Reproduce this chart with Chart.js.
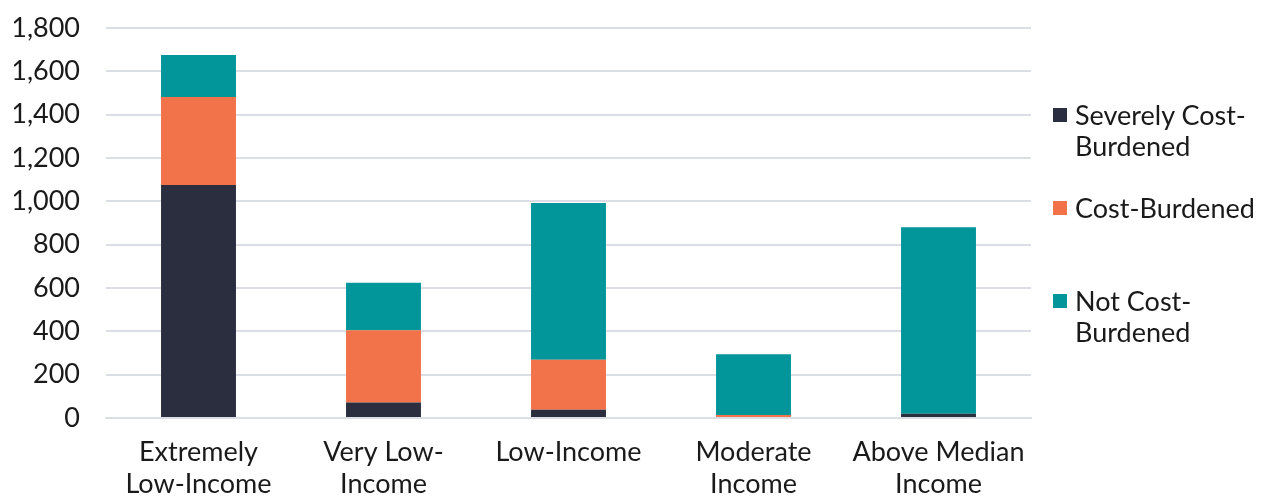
<!DOCTYPE html>
<html>
<head>
<meta charset="utf-8">
<script src="https://cdn.jsdelivr.net/npm/chart.js@4.4.1/dist/chart.umd.min.js"></script>
<style>
  html, body { margin: 0; padding: 0; background: #ffffff; }
  #wrap { position: relative; width: 1273px; height: 498px; }
  #chart { position: absolute; left: 0; top: 0; }
  .legend { position: absolute; left: 1053px; font-family: Lato, sans-serif; font-size: 27px; color: #1a1a1a; line-height: 31px; }
  .legend .sw { position: absolute; left: 0; top: 9px; width: 14px; height: 14px; }
  .legend .tx { position: absolute; left: 22px; white-space: nowrap; }
</style>
</head>
<body>
<div id="wrap">
  <canvas id="chart" width="1273" height="498"></canvas>
  <div class="legend" style="top:99px"><div class="sw" style="background:#2b2e3f"></div><div class="tx">Severely Cost-<br>Burdened</div></div>
  <div class="legend" style="top:192px"><div class="sw" style="background:#f2724a"></div><div class="tx">Cost-Burdened</div></div>
  <div class="legend" style="top:285px"><div class="sw" style="background:#02969b"></div><div class="tx">Not Cost-<br>Burdened</div></div>
</div>
<script>
// Households by income level and housing cost burden
const categories = [
  ["Extremely", "Low-Income"],
  ["Very Low-", "Income"],
  ["Low-Income"],
  ["Moderate", "Income"],
  ["Above Median", "Income"]
];
const severelyCostBurdened = [1075, 72, 38, 0, 20];
const costBurdened = [406, 333, 231, 14, 0];
const notCostBurdened = [194, 219, 723, 280, 860];
const yTicks = [0, 200, 400, 600, 800, 1000, 1200, 1400, 1600, 1800];

const font = { family: "Lato, sans-serif", size: 27 };

new Chart(document.getElementById("chart"), {
  type: "bar",
  data: {
    labels: categories,
    datasets: [
      { label: "Severely Cost-Burdened", data: severelyCostBurdened, backgroundColor: "#2b2e3f" },
      { label: "Cost-Burdened", data: costBurdened, backgroundColor: "#f2724a" },
      { label: "Not Cost-Burdened", data: notCostBurdened, backgroundColor: "#02969b" }
    ]
  },
  options: {
    responsive: false,
    animation: false,
    layout: { padding: { left: 14, right: 242, top: 28, bottom: 0 } },
    datasets: { bar: { categoryPercentage: 0.405, barPercentage: 1.0, borderWidth: 0 } },
    plugins: { legend: { display: false }, tooltip: { enabled: false } },
    scales: {
      x: {
        stacked: true,
        grid: { display: false, drawTicks: false },
        border: { display: true, color: "#dcdee6", width: 2 },
        ticks: { color: "#1a1a1a", font: font, padding: 18, maxRotation: 0, autoSkip: false },
        afterFit: (axis) => { axis.height = 80; axis.paddingLeft = 0; axis.paddingRight = 0; }
      },
      y: {
        stacked: true,
        min: 0,
        max: 1800,
        afterBuildTicks: (axis) => { axis.ticks = yTicks.map(v => ({ value: v })); },
        afterFit: (axis) => { axis.width = 92; axis.paddingTop = 0; axis.paddingBottom = 0; },
        grid: { color: "#dcdee6", lineWidth: 2, drawTicks: false },
        border: { display: false },
        ticks: {
          color: "#1a1a1a",
          font: font,
          padding: 26,
          callback: (v) => v.toLocaleString("en-US")
        }
      }
    }
  }
});
</script>
</body>
</html>
